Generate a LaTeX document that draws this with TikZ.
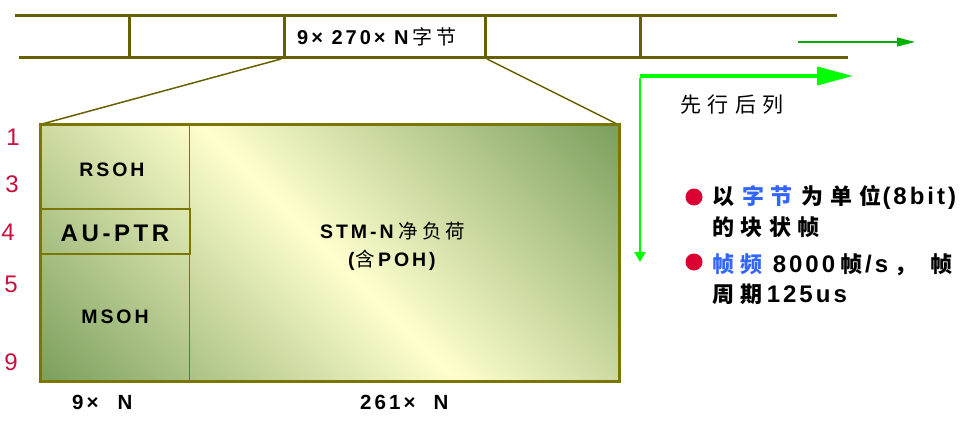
\documentclass[tikz,border=0pt]{standalone}
\usepackage{fontspec}
\setmainfont{Liberation Sans}
\newfontfamily\lat[LetterSpace=15]{Liberation Sans}
\newfontfamily\latb[LetterSpace=12.5]{Liberation Sans}
\newfontfamily\zh[LetterSpace=20]{Noto Sans CJK SC}
\newfontfamily\zhw[LetterSpace=30]{Noto Sans CJK SC}
\usetikzlibrary{arrows.meta,calc}
\definecolor{bandc}{RGB}{102,96,0}
\definecolor{rectc}{RGB}{122,118,0}
\definecolor{numred}{RGB}{200,16,60}
\definecolor{bulred}{RGB}{220,0,50}
\definecolor{zblue}{RGB}{51,102,255}
\definecolor{gbright}{RGB}{0,255,0}
\definecolor{gthin}{RGB}{0,176,0}
\definecolor{dkg}{RGB}{122,158,92}
\definecolor{ltg}{RGB}{255,255,205}
\newcommand{\bl}[1]{{\latb\fontsize{24}{26}\selectfont #1}}
\begin{document}
\begin{tikzpicture}[x=1pt,y=-1pt,
  band/.style={draw=bandc,line width=3pt},
  diag/.style={draw=bandc,line width=1.5pt},
  lbl/.style={font=\lat\bfseries\fontsize{19.5}{22}\selectfont,inner sep=0pt,anchor=base},
  num/.style={text=numred,font=\fontsize{24}{26}\selectfont,inner sep=0pt,anchor=base},
  btxt/.style={font=\bfseries\fontsize{22}{26}\selectfont,inner sep=0pt,anchor=base west},
  dot/.style={circle,fill=bulred,minimum size=17pt,inner sep=0pt}]
\useasboundingbox (0,0) rectangle (972,431);
% top band
\draw[band] (15,15) -- (837,15);
\draw[band] (19,57) -- (848,57);
\foreach \x in {129,284,485,640} \draw[band] (\x,15) -- (\x,58);
\node[inner sep=0pt,anchor=base west] (bandtxt) at (297,44.3)
  {\fontsize{20}{22}\selectfont{\lat\bfseries 9× 270× N}\hspace{4pt}{\zh 字节}};
% frame coordinates
\coordinate (cellL) at (281,59);
\coordinate (cellR) at (487,59);
\coordinate (Rnw) at (42,124);
\coordinate (Rne) at (617,124);
\draw[diag] (cellL) -- (Rnw);
\draw[diag] (cellR) -- (Rne);
% shaded frame
\begin{scope}
\clip (40,124) rectangle (619,381);
\shade[transform canvas={rotate around={45:(329.5,252.5)}},left color=dkg,right color=dkg,middle color=ltg]
  (33.5,-197.5) rectangle (625.5,702.5);
\end{scope}
\draw[draw=rectc,line width=1pt] (189,124) -- (189,381);
\draw[draw=rectc,line width=1.5pt] (40,209) rectangle (190,254);
\draw[draw=rectc,line width=3pt] (40,124) rectangle (619,381);
\node[lbl] (rsoh) at (112,176) {RSOH};
\node[lbl,font=\lat\bfseries\fontsize{24}{26}\selectfont] (auptr) at (115,241.5) {AU-PTR};
\node[lbl] (msoh) at (115,323) {MSOH};
\node[lbl,anchor=base west] (pay1) at (320,238) {{\lat STM-N}\hspace{5pt}{\zh\mdseries 净负荷}};
\node[lbl,anchor=base west] (pay2) at (348,266) {{\lat (}\hspace{1pt}{\zh\mdseries 含}\hspace{3pt}{\lat POH)}};
\node[lbl,font=\lat\bfseries\fontsize{20.5}{22}\selectfont,anchor=base west] (w1) at (72,409) {9×\hspace{19pt}N};
\node[lbl,font=\lat\bfseries\fontsize{20.5}{22}\selectfont,anchor=base west] (w2) at (360,409) {261×\hspace{18pt}N};
% row numbers
\node[num] (n1) at (13,145) {1};
\node[num] (n3) at (12,192) {3};
\node[num] (n4) at (8,240) {4};
\node[num] (n5) at (11,292) {5};
\node[num] (n9) at (11,370) {9};
% arrows
\coordinate (corner) at (640,76);
\coordinate (hend) at (853,76);
\coordinate (vend) at (640,262);
\draw[gbright,line width=4pt,-{Triangle[length=36pt,width=18pt]}] (corner) -- (hend);
\draw[gbright,line width=2pt,-{Triangle[length=10pt,width=11pt]}] ([yshift=-2pt]corner) -- (vend);
\coordinate (t1) at (798,42);
\coordinate (t2) at (915,42);
\draw[gthin,line width=1.2pt,-{Triangle[length=18pt,width=9pt]}] (t1) -- (t2);
\node[inner sep=0pt,font=\zhw\fontsize{21}{24}\selectfont] (order) at (732,105) {先行后列};
% bullets
\node[dot] (b1) at (694,197) {};
\node[dot] (b2) at (694,262) {};
\node[btxt] (l1) at (712,204) {{\zhw 以}\hspace{8pt}{\zhw\color{zblue}字节}\hspace{9pt}{\zhw 为单位}\hspace{1.5pt}\bl{(8bit)}};
\node[btxt] (l2) at (712,235) {{\zhw 的块状帧}};
\node[btxt] (l3) at (712,272) {{\zhw\color{zblue}帧频}\hspace{10pt}\bl{8000}\hspace{5pt}{\zhw 帧}\hspace{3pt}\bl{/s}\hspace{6pt}{\zhw ，}\hspace{14pt}{\zhw 帧}};
\node[btxt] (l4) at (712,302) {{\zhw 周期}\hspace{4pt}\bl{125us}};
\end{tikzpicture}
\end{document}
